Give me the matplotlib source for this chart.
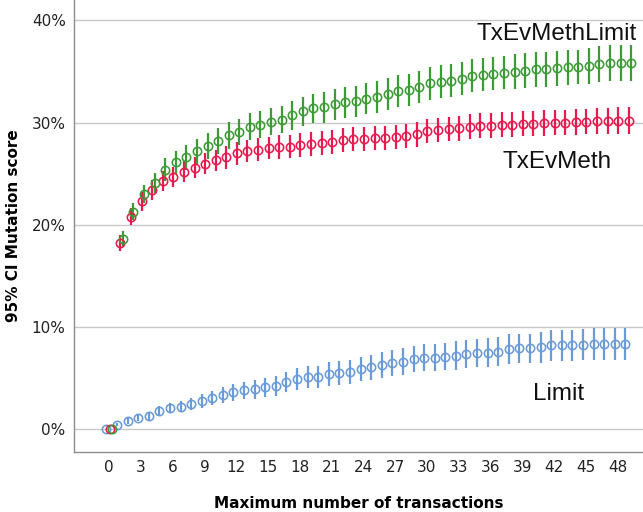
import matplotlib
matplotlib.use("Agg")
import matplotlib.pyplot as plt
import numpy as np

x_vals = list(range(50))

limit_mean = [0.0, 0.42, 0.8, 1.14, 1.3, 1.8, 2.05, 2.2, 2.45, 2.77,
              3.04, 3.36, 3.6, 3.8, 3.9, 4.1, 4.25, 4.6, 4.9, 5.1,
              5.1, 5.4, 5.5, 5.6, 5.9, 6.04, 6.3, 6.5, 6.6, 6.86,
              7.0, 7.0, 7.1, 7.2, 7.35, 7.45, 7.5, 7.6, 7.84, 7.9,
              7.9, 8.0, 8.2, 8.2, 8.2, 8.26, 8.36, 8.33, 8.36, 8.36]
limit_ci = [0.0, 0.15, 0.25, 0.3, 0.35, 0.45, 0.5, 0.55, 0.6, 0.65,
            0.7, 0.75, 0.8, 0.85, 0.9, 0.95, 1.0, 1.0, 1.05, 1.1,
            1.1, 1.15, 1.15, 1.2, 1.2, 1.25, 1.25, 1.3, 1.3, 1.3,
            1.35, 1.35, 1.35, 1.4, 1.4, 1.4, 1.4, 1.45, 1.45, 1.45,
            1.45, 1.5, 1.5, 1.5, 1.5, 1.5, 1.55, 1.55, 1.55, 1.55]

txev_mean = [0.0, 18.2, 20.8, 22.3, 23.4, 24.3, 24.7, 25.2, 25.6, 26.0,
             26.3, 26.6, 27.0, 27.2, 27.35, 27.5, 27.6, 27.65, 27.8, 27.9,
             28.0, 28.1, 28.3, 28.4, 28.4, 28.5, 28.5, 28.6, 28.7, 28.85,
             29.2, 29.3, 29.4, 29.45, 29.6, 29.7, 29.7, 29.8, 29.8, 29.9,
             29.9, 29.95, 30.0, 30.0, 30.05, 30.1, 30.15, 30.15, 30.2, 30.2]
txev_ci = [0.0, 0.8, 0.85, 0.9, 0.95, 1.0, 1.0, 1.05, 1.05, 1.05,
           1.05, 1.1, 1.1, 1.1, 1.1, 1.1, 1.15, 1.15, 1.15, 1.15,
           1.15, 1.15, 1.15, 1.2, 1.2, 1.2, 1.2, 1.2, 1.2, 1.2,
           1.2, 1.2, 1.2, 1.2, 1.2, 1.2, 1.2, 1.2, 1.2, 1.2,
           1.2, 1.25, 1.25, 1.25, 1.25, 1.25, 1.25, 1.3, 1.3, 1.3]

txevlim_mean = [0.0, 18.6, 21.3, 23.0, 24.1, 25.4, 26.1, 26.6, 27.2, 27.7,
                28.2, 28.75, 29.1, 29.6, 29.8, 30.1, 30.3, 30.7, 31.1, 31.4,
                31.5, 31.8, 32.0, 32.1, 32.35, 32.5, 32.8, 33.1, 33.2, 33.5,
                33.85, 34.0, 34.1, 34.3, 34.6, 34.7, 34.8, 34.9, 35.0, 35.1,
                35.2, 35.2, 35.3, 35.4, 35.45, 35.55, 35.7, 35.8, 35.8, 35.8]
txevlim_ci = [0.0, 0.75, 0.8, 0.9, 1.0, 1.1, 1.15, 1.2, 1.2, 1.25,
              1.25, 1.3, 1.3, 1.3, 1.35, 1.35, 1.35, 1.4, 1.45, 1.45,
              1.5, 1.5, 1.5, 1.5, 1.55, 1.55, 1.55, 1.55, 1.6, 1.6,
              1.6, 1.6, 1.6, 1.6, 1.65, 1.65, 1.65, 1.65, 1.7, 1.7,
              1.7, 1.7, 1.7, 1.7, 1.7, 1.75, 1.75, 1.75, 1.75, 1.75]

series_names = ["Limit", "TxEvMeth", "TxEvMethLimit"]
series_colors = ["#6a9bd8", "#e8194f", "#3d9b35"]
offsets = [-0.27, 0.05, 0.28]
x_ticks = list(range(0, 49, 3))
y_ticks = [0, 10, 20, 30, 40]
y_tick_labels = ["0%", "10%", "20%", "30%", "40%"]

fig = plt.figure(figsize=(6.43, 5.12), dpi=100)
ax = fig.add_axes([74 / 643, (512 - 451.7) / 512, (643 - 74) / 643, 451.7 / 512])

x = np.array(x_vals, dtype=float)
data = [(limit_mean, limit_ci), (txev_mean, txev_ci), (txevlim_mean, txevlim_ci)]
for (m, c), col, off in zip(data, series_colors, offsets):
    ax.errorbar(x + off, m, yerr=c, fmt="o", ms=6.0, mfc="none", mec=col,
                mew=1.15, ecolor=col, elinewidth=1.6, capsize=0, zorder=3)

ax.set_xlim(-3.33, 50.4)
ax.set_ylim(-2.2, 42.0)
ax.set_xticks(x_ticks)
ax.set_yticks(y_ticks)
ax.set_yticklabels(y_tick_labels)
ax.tick_params(axis="both", length=0, labelsize=11, colors="#222222", pad=6)
ax.yaxis.grid(True, color="#c8c8c8", lw=1.0)
ax.set_axisbelow(True)
for s in ["top", "right"]:
    ax.spines[s].set_visible(False)
for s in ["left", "bottom"]:
    ax.spines[s].set_color("#8c8c8c")
    ax.spines[s].set_linewidth(1.0)

ax.set_xlabel("Maximum number of transactions", fontsize=11, fontweight="bold", labelpad=15)
ax.set_ylabel("95% CI Mutation score", fontsize=11, fontweight="bold", labelpad=8)

lab_font = dict(family="Liberation Sans", fontsize=17.5, color="#111111")
ax.text(34.66, 38.1, "TxEvMethLimit", va="baseline", ha="left", **lab_font)
ax.text(37.1, 25.6, "TxEvMeth", va="baseline", ha="left", **lab_font)
ax.text(40.0, 2.87, "Limit", va="baseline", ha="left", **lab_font)

fig.savefig("out.png", dpi=100)
